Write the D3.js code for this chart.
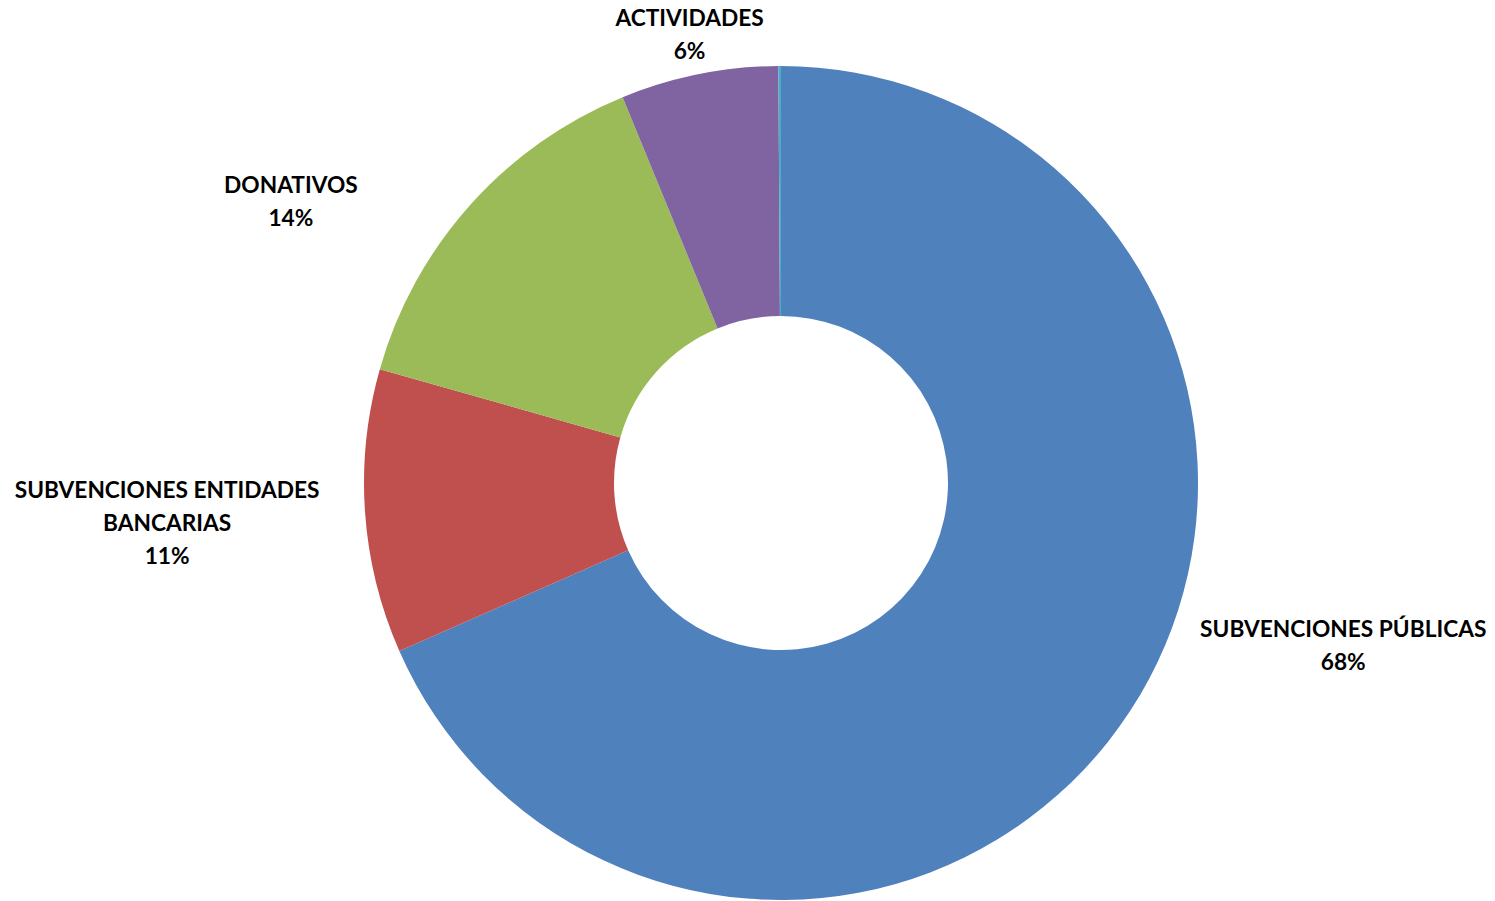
<!doctype html>
<html>
<head>
  <meta charset="utf-8" />
  <title>Financiación</title>
  <script src="https://cdn.jsdelivr.net/npm/d3@7"></script>
  <style>
  html,body{margin:0;padding:0;background:#fff;}
  svg{display:block;}
  .lbl{font-family:Lato,"Open Sans",sans-serif;font-weight:bold;font-size:22.7px;fill:#000;}
  </style>
</head>
<body>
<div id="chart"></div>
<script type="text/javascript">
// datos (porcentaje de cada fuente)
var categories = ["SUBVENCIONES PÚBLICAS", "SUBVENCIONES ENTIDADES BANCARIAS", "DONATIVOS", "ACTIVIDADES", "OTROS"];
var labelLines = [["SUBVENCIONES PÚBLICAS"], ["SUBVENCIONES ENTIDADES", "BANCARIAS"], ["DONATIVOS"], ["ACTIVIDADES"], []];
var values = [68.4, 11.0, 14.4, 6.1, 0.1];
var colors = ["#4F81BD", "#C0504D", "#9BBB59", "#8064A2", "#4BACC6"];
// label nudges from the outside point, Excel style
var labelShift = [[177, -89], [-155, 8], [-147, 25], [-1, 3], [0, 0]];

var W = 1495, H = 901;
var cx = 781, cy = 483, rOut = 417, rIn = 167;

var svg = d3.select("#chart").append("svg")
  .attr("width", W).attr("height", H);

var g = svg.append("g").attr("transform", "translate(" + cx + "," + cy + ")");

var pie = d3.pie().sort(null).value(function(d){ return d; });
var arcs = pie(values);

var arc = d3.arc().innerRadius(rIn).outerRadius(rOut);
var labelArc = d3.arc().innerRadius(460).outerRadius(460);

g.selectAll("path.slice").data(arcs).enter()
  .append("path")
  .attr("class", "slice")
  .attr("d", arc)
  .attr("fill", function(d, i){ return colors[i]; });

var total = d3.sum(values);
var lineH = 33;

g.selectAll("text.lbl").data(arcs).enter()
  .filter(function(d, i){ return labelLines[i].length > 0; })
  .append("text")
  .attr("class", "lbl")
  .attr("text-anchor", "middle")
  .each(function(d){
    var i = d.index;
    var c = labelArc.centroid(d);
    var x = c[0] + labelShift[i][0];
    var y = c[1] + labelShift[i][1];
    var lines = labelLines[i].concat([Math.round(d.value / total * 100) + "%"]);
    var y0 = y - (lines.length - 1) * lineH / 2;
    var t = d3.select(this);
    lines.forEach(function(s, k){
      t.append("tspan").attr("x", x).attr("y", y0 + k * lineH)
        .attr("dy", "0.35em").text(s);
    });
  });
</script>
</body>
</html>
